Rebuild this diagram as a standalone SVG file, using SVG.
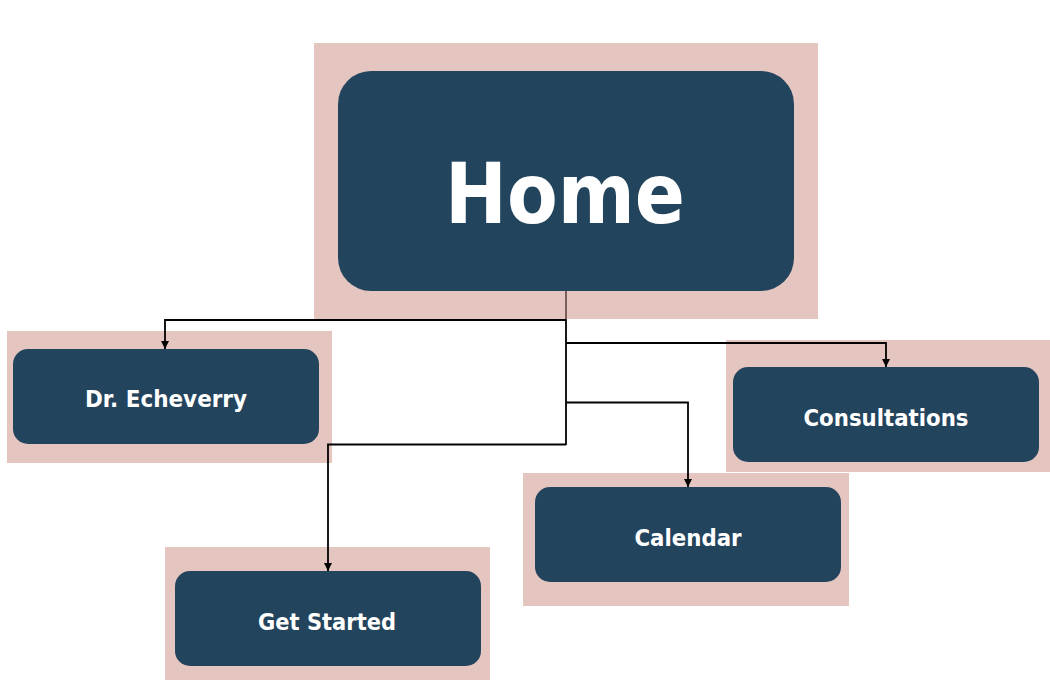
<svg xmlns="http://www.w3.org/2000/svg" width="1050" height="682" viewBox="0 0 1050 682">
<style>
.bg{fill:#e5c5c0}
.box{fill:#23445d}
.lbl{font-family:"DejaVu Sans Condensed","DejaVu Sans",sans-serif;font-weight:bold;fill:#ffffff;text-anchor:middle}
.con{fill:none;stroke:#000000;stroke-width:1.8}
</style>
<defs>
<marker id="ah" viewBox="0 0 10 10" refX="10" refY="5" markerWidth="8" markerHeight="8" markerUnits="userSpaceOnUse" orient="auto">
<path d="M0,0 L10,5 L0,10 z" fill="#000000"/>
</marker>
</defs>
<rect width="1050" height="682" fill="#ffffff"/>
<g id="home">
<rect class="bg" x="314" y="43" width="504" height="276"/>
<rect class="box" x="338" y="71" width="456" height="220" rx="33"/>
<text class="lbl" x="565" y="223" font-size="84" textLength="240" lengthAdjust="spacingAndGlyphs">Home</text>
</g>
<g id="dr-echeverry">
<rect class="bg" x="7" y="331" width="325" height="132"/>
<rect class="box" x="13" y="349" width="306" height="95" rx="15"/>
<text class="lbl" x="166" y="407" font-size="23" textLength="162" lengthAdjust="spacingAndGlyphs">Dr. Echeverry</text>
</g>
<g id="consultations">
<rect class="bg" x="726" y="340" width="324" height="132"/>
<rect class="box" x="733" y="367" width="306" height="95" rx="15"/>
<text class="lbl" x="886" y="426" font-size="23" textLength="165" lengthAdjust="spacingAndGlyphs">Consultations</text>
</g>
<g id="calendar">
<rect class="bg" x="523" y="473" width="326" height="133"/>
<rect class="box" x="535" y="487" width="306" height="95" rx="15"/>
<text class="lbl" x="688" y="546" font-size="23" textLength="107" lengthAdjust="spacingAndGlyphs">Calendar</text>
</g>
<g id="get-started">
<rect class="bg" x="165" y="547" width="325" height="133"/>
<rect class="box" x="175" y="571" width="306" height="95" rx="15"/>
<text class="lbl" x="327" y="630" font-size="23" textLength="138" lengthAdjust="spacingAndGlyphs">Get Started</text>
</g>
<g id="connectors">
<line x1="566" y1="291" x2="566" y2="319" stroke="#6e5553" stroke-width="1.8"/>
<path class="con" d="M566,319 L566,445"/>
<path class="con" d="M566,320 L165,320 L165,349" stroke-width="1.2" marker-end="url(#ah)"/>
<path class="con" d="M566,343 L886,343 L886,367" marker-end="url(#ah)"/>
<path class="con" d="M566,402.5 L688,402.5 L688,487" marker-end="url(#ah)"/>
<path class="con" d="M566,444.5 L328,444.5 L328,571" marker-end="url(#ah)"/>
</g>
</svg>
